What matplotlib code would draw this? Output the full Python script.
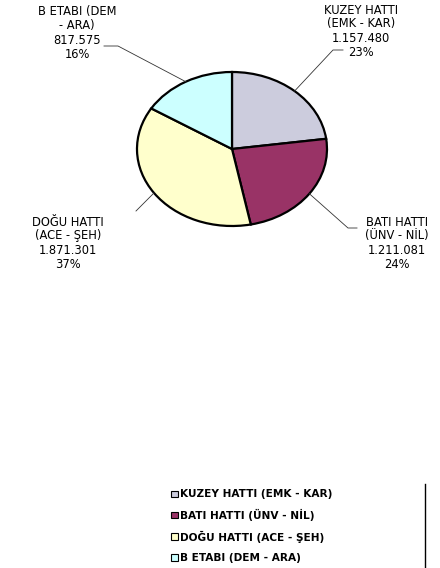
import numpy as np
import matplotlib
matplotlib.use("Agg")
import matplotlib.pyplot as plt
from matplotlib.lines import Line2D
from matplotlib.patches import Rectangle

plt.rcParams['font.family'] = ['DejaVu Sans']

# ---- data ----
categories = ["KUZEY HATTI (EMK - KAR)", "BATI HATTI (ÜNV - NİL)",
              "DOĞU HATTI (ACE - ŞEH)", "B ETABI (DEM - ARA)"]
pie_labels = ["KUZEY HATTI\n(EMK - KAR)", "BATI HATTI\n(ÜNV - NİL)",
              "DOĞU HATTI\n(ACE - ŞEH)", "B ETABI (DEM\n- ARA)"]
values = [1157480, 1211081, 1871301, 817575]
colors = ["#CCCCDD", "#993366", "#FFFFCC", "#CCFFFF"]

W, H = 440, 568
fig = plt.figure(figsize=(W / 100, H / 100), dpi=100)

cx, cy, rx, ry = 232, 149, 95, 77
ax = fig.add_axes([(cx - rx) / W, 1 - (cy + ry) / H, 2 * rx / W, 2 * ry / H])
wedges, _ = ax.pie(values, colors=colors, startangle=90, counterclock=False,
                   wedgeprops=dict(edgecolor='black', linewidth=1.6))
for w in wedges:
    w.set_clip_on(False)
ax.set_aspect('auto')
ax.set_xlim(-1, 1)
ax.set_ylim(-1, 1)
ax.axis('off')

total = sum(values)

def fmt(v):
    return f"{v:,}".replace(",", ".")

# label layout (pixel coords, top-left origin): elbow, line end, text center x, first line y
layout = [
    dict(elbow=(333, 50), end=(343, 50), tx=361, ty=10),
    dict(elbow=(348, 228), end=(357, 228), tx=397, ty=222),
    dict(elbow=(136, 211), end=(136, 211), tx=68, ty=222),
    dict(elbow=(118, 46), end=(104, 46), tx=77, ty=12),
]

def fx(x):
    return x / W

def fy(y):
    return 1 - y / H

for w, lab, v, L in zip(wedges, pie_labels, values, layout):
    th = np.deg2rad((w.theta1 + w.theta2) / 2)
    px = cx + rx * np.cos(th)
    py = cy - ry * np.sin(th)
    xs = [px, L['elbow'][0], L['end'][0]]
    ys = [py, L['elbow'][1], L['end'][1]]
    fig.add_artist(Line2D([fx(x) for x in xs], [fy(y) for y in ys],
                          transform=fig.transFigure, color='#333333', lw=0.6))
    lines = lab.split("\n") + [fmt(v), f"{round(v / total * 100)}%"]
    for i, t in enumerate(lines):
        fig.text(fx(L['tx']), fy(L['ty'] + i * 14), t, ha='center', va='center',
                 fontsize=8.3, color='black')

# legend
for i, (c, name) in enumerate(zip(colors, categories)):
    y = 494 + i * 21.3
    fig.add_artist(Rectangle((fx(171), fy(y + 3)), 6.5 / W, 6.5 / H,
                             transform=fig.transFigure, facecolor=c,
                             edgecolor='black', lw=0.8))
    fig.text(fx(180), fy(y), name, ha='left', va='center', fontsize=7.6,
             fontweight='bold', color='black')

fig.add_artist(Line2D([fx(425), fx(425)], [fy(484), fy(568)],
                      transform=fig.transFigure, color='black', lw=1.0))

fig.savefig("out.png", dpi=100)
